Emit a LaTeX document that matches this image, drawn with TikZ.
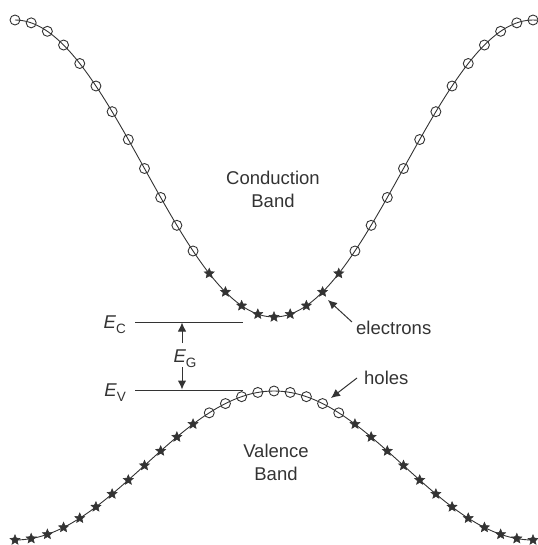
\documentclass[tikz,border=0pt]{standalone}
\usepackage{fontspec}
\setmainfont{Liberation Sans}
\usetikzlibrary{shapes.geometric,arrows.meta}
\definecolor{ink}{HTML}{333333}
\newcommand{\bandsub}[2]{{\itshape #1}\raisebox{-0.28em}{\fontsize{13.5}{13.5}\selectfont #2}}
\begin{document}
\begin{tikzpicture}[x=1pt,y=-1pt,
  curve/.style={line width=0.9pt, draw=ink},
  hole/.style={circle, draw=ink, line width=0.9pt, inner sep=0pt, minimum size=10pt},
  elec/.style={star, star points=5, star point ratio=2.2, fill=ink, draw=ink, line width=0.5pt, inner sep=0pt, minimum size=10.5pt},
  lbl/.style={font=\fontsize{18.5}{23}\selectfont, text=ink, inner sep=0pt},
  level/.style={line width=0.8pt, draw=ink},
  pointer/.style={line width=1pt, draw=ink, -{Latex[length=9pt,width=8.5pt]}}
]
\useasboundingbox (0,0) rectangle (537,545);
% band curves
\draw[curve] plot[domain=15:537, samples=120, smooth] (\x, {168.5+148.5*cos(0.694981*(\x-274))});
\draw[curve] plot[domain=15:537, samples=120, smooth] (\x, {465.5-74.5*cos(0.694981*(\x-274))});
% markers
\foreach \k in {0,...,32}{
  \pgfmathsetmacro{\mx}{15+\k*16.1875}
  \pgfmathsetmacro{\cy}{168.5+148.5*cos(0.694981*(\mx-274))}
  \pgfmathsetmacro{\vy}{465.5-74.5*cos(0.694981*(\mx-274))}
  \ifnum\k<12
    \node[hole] (c\k) at (\mx,\cy) {};
    \node[elec] (v\k) at (\mx,\vy) {};
  \else\ifnum\k<21
    \node[elec] (c\k) at (\mx,\cy) {};
    \node[hole] (v\k) at (\mx,\vy) {};
  \else
    \node[hole] (c\k) at (\mx,\cy) {};
    \node[elec] (v\k) at (\mx,\vy) {};
  \fi\fi
}
% labels
\node[lbl, align=center] (cb) at (273,189) {Conduction\\Band};
\node[lbl, align=center] (vb) at (276,462) {Valence\\Band};
\node[lbl, anchor=base east] (ec) at (126,328) {\bandsub{E}{C}};
\node[lbl, anchor=base east] (ev) at (126,396) {\bandsub{E}{V}};
\node[lbl, anchor=base] (eg) at (185,362) {\bandsub{E}{G}};
\node[lbl, anchor=west] (el) at (356,328) {electrons};
\node[lbl, anchor=west] (ho) at (364,378) {holes};
% levels
\coordinate (ecL) at (135,322); \coordinate (ecR) at (243,322);
\coordinate (evL) at (135,390); \coordinate (evR) at (243,390);
\draw[level] (ecL) -- (ecR);
\draw[level] (evL) -- (evR);
% gap arrows
\coordinate (egUp) at (182,343); \coordinate (egUpT) at (182,322.5);
\coordinate (egDn) at (182,367); \coordinate (egDnT) at (182,389.5);
\draw[pointer] (egUp) -- (egUpT);
\draw[pointer] (egDn) -- (egDnT);
% pointers
\coordinate (elT) at (352,322); \coordinate (elH) at (328,300);
\coordinate (hoT) at (357,378); \coordinate (hoH) at (331,398);
\draw[pointer] (elT) -- (elH);
\draw[pointer] (hoT) -- (hoH);
\end{tikzpicture}
\end{document}
